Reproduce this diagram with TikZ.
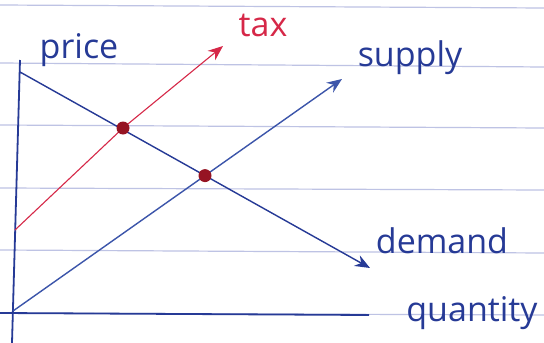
\documentclass[tikz,border=0pt]{standalone}
\usepackage{fontspec}
\setmainfont{Open Sans}
\usetikzlibrary{arrows.meta}
\definecolor{ink}{RGB}{38,58,150}
\definecolor{inklight}{RGB}{60,85,170}
\definecolor{redink}{RGB}{214,40,72}
\definecolor{dotred}{RGB}{150,20,35}
\definecolor{rule}{RGB}{190,195,228}
\tikzset{
  paperline/.style={draw=rule, line width=1.2pt},
  axis/.style={draw=ink, line width=1.8pt},
  curve/.style={line width=1.4pt, -{Stealth[length=15pt,width=12pt]}},
  taxcurve/.style={draw=redink, line width=1.1pt, -{Stealth[length=15pt,width=12pt]}},
  eqdot/.style={circle, fill=dotred, inner sep=0pt, minimum size=13pt},
  hand/.style={inner sep=0pt, font=\fontsize{34}{34}\selectfont},
}
\begin{document}
\begin{tikzpicture}[x=1pt,y=-1pt]
\useasboundingbox[fill=white] (0,0) rectangle (544,343);
% ruled paper
\foreach \y/\z in {5/8, 63/67, 125/128, 188/190, 250/253, 313/315}
  \draw[paperline] (0,\y) -- (544,\z);
% axes
\coordinate (ytop) at (20,60);
\coordinate (ybot) at (12,343);
\coordinate (xleft) at (0,313);
\coordinate (xright) at (369,315);
\draw[axis] (ybot) -- (ytop);
\draw[axis] (xleft) -- (xright);
% curves
\coordinate (d0) at (20,72);
\coordinate (d1) at (370,268);
\coordinate (s0) at (13,311);
\coordinate (s1) at (342,79);
\coordinate (t0) at (15,230);
\coordinate (tm) at (123,128);
\coordinate (t1) at (223,46);
\draw[taxcurve] (t0) -- (tm) -- (t1);
\draw[curve, draw=ink, fill=ink] (d0) -- (d1);
\draw[curve, draw=inklight, fill=inklight] (s0) -- (s1);
\node[eqdot] (e1) at (tm) {};
\node[eqdot] (e2) at (intersection of d0--d1 and s0--s1) {};
% labels
\node[hand, text=ink] (price) at (79,50) {price};
\node[hand, text=redink] (tax) at (263,25) {tax};
\node[hand, text=ink] (supply) at (410,58) {supply};
\node[hand, text=ink] (demand) at (442,241) {demand};
\node[hand, text=ink] (quantity) at (472,313) {quantity};
\end{tikzpicture}
\end{document}
